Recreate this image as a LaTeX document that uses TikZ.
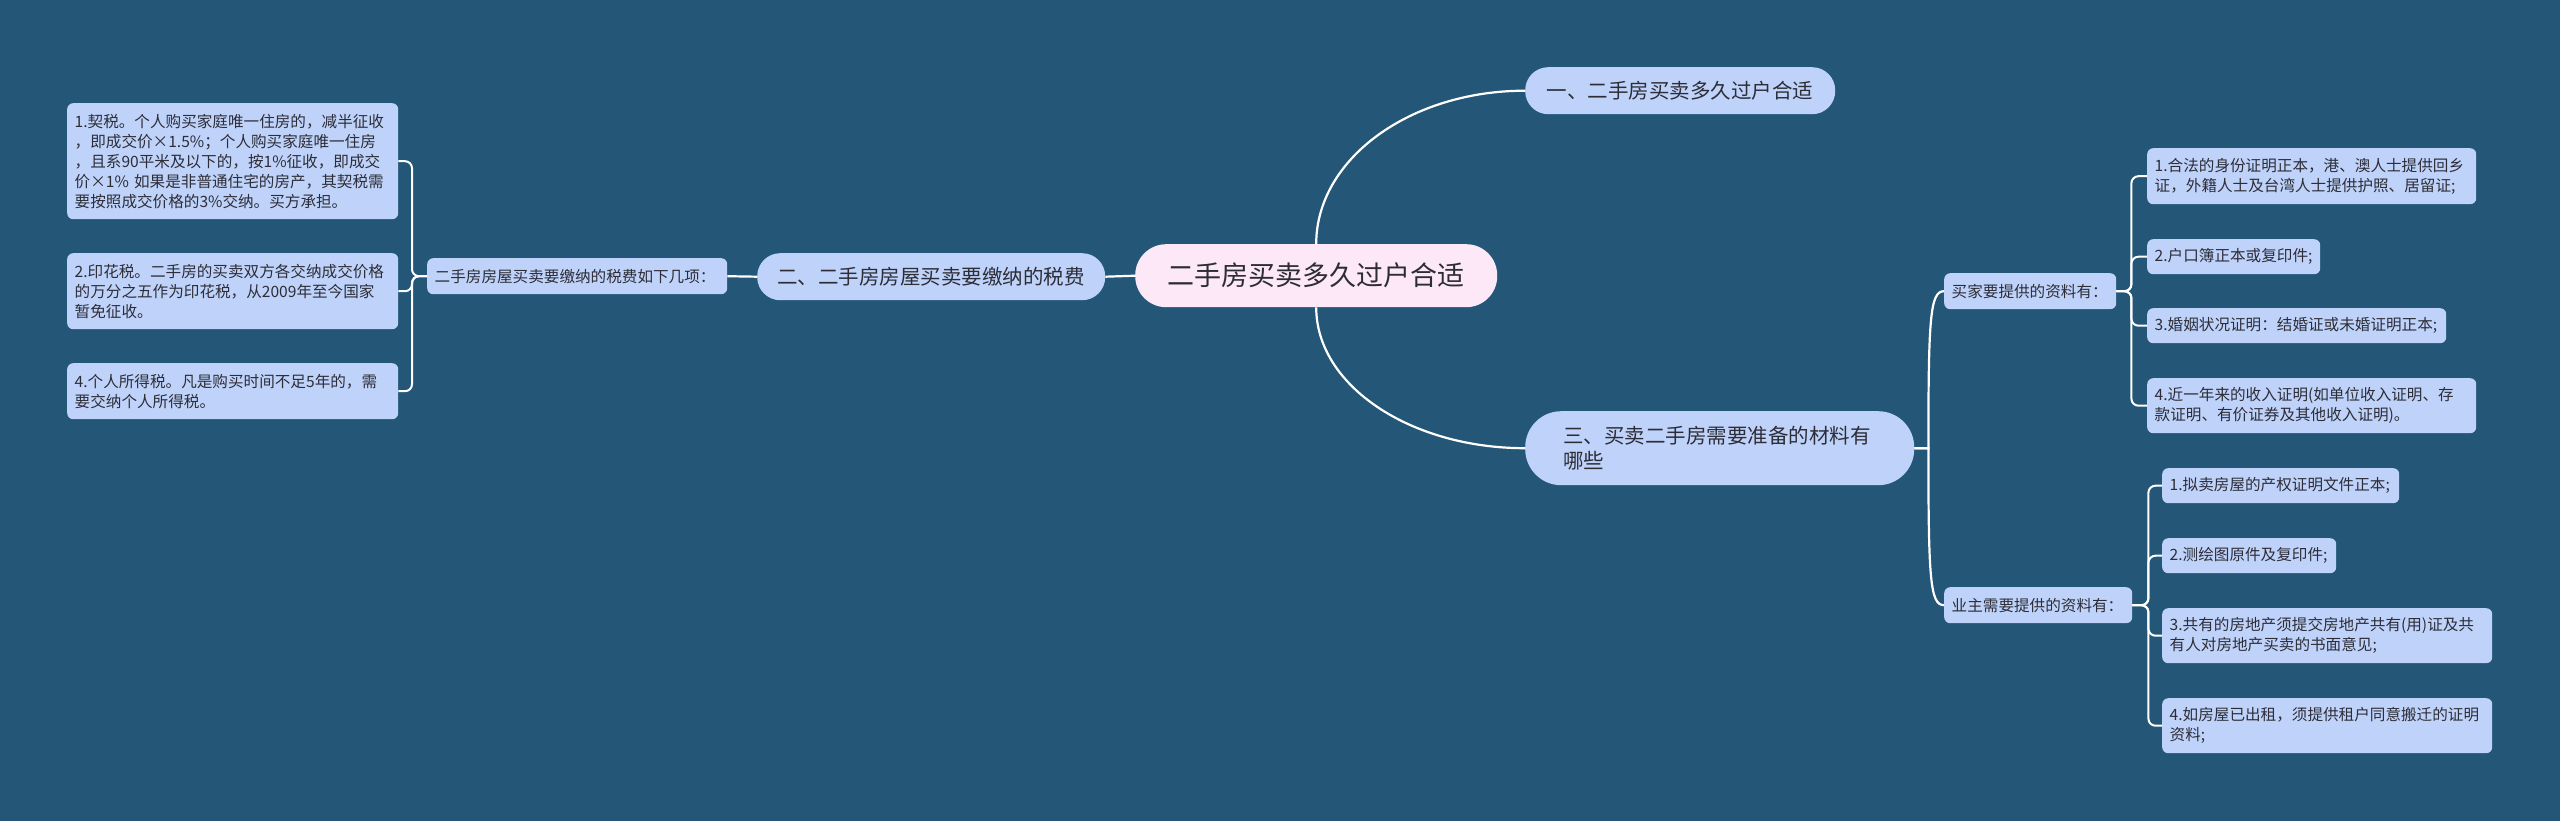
\documentclass[tikz,border=0pt]{standalone}
\usepackage{fontspec}
\setmainfont{Noto Sans CJK SC}
\usetikzlibrary{positioning}
\definecolor{bgblue}{RGB}{36,86,120}
\definecolor{nodeblue}{RGB}{191,211,250}
\definecolor{rootpink}{RGB}{253,232,247}
\definecolor{inkgray}{RGB}{45,45,55}

\begin{document}
\begin{tikzpicture}[x=1pt, y=-1pt,
    link/.style={draw=white, line width=2.2pt},
    bracket/.style={draw=white, line width=2pt, rounded corners=7pt},
    rootnode/.style={fill=rootpink, rounded corners=31pt, anchor=north west,
      text=inkgray, font=\fontsize{27}{32}\selectfont,
      minimum width=362pt, minimum height=63pt, inner sep=0pt},
    topicnode/.style={fill=nodeblue, rounded corners=23pt, anchor=north west,
      text=inkgray, font=\fontsize{20.5}{25}\selectfont,
      minimum height=47pt, inner sep=0pt},
    itemnode/.style={fill=nodeblue, rounded corners=6pt, anchor=north west,
      text=inkgray, font=\fontsize{15.6}{20}\selectfont, align=left,
      inner xsep=7.5pt, inner ysep=0pt, minimum height=35pt}]

  % background
  \fill[bgblue] (0,0) rectangle (2560,821);

  % central topic
  \node[rootnode] (root) at (1135,244) {二手房买卖多久过户合适};

  % main branches
  \node[topicnode, minimum width=310pt] (br1) at (1525,67) {一、二手房买卖多久过户合适};
  \node[topicnode, minimum width=348pt] (br2) at (757,253) {二、二手房房屋买卖要缴纳的税费};
  \node[topicnode, rounded corners=36pt, minimum height=74pt, text width=313pt,
    align=left, inner xsep=38pt] (br3) at (1525,411) {三、买卖二手房需要准备的材料有\\哪些};

  % taxes (left)
  \node[itemnode, text width=285pt, minimum height=36pt] (tax) at (427,258) {二手房房屋买卖要缴纳的税费如下几项：};
  \node[itemnode, text width=316pt, minimum height=116pt] (tax1) at (67,103) {%
    1.契税。个人购买家庭唯一住房的，减半征收\\
    ，即成交价×1.5\%；个人购买家庭唯一住房\\
    ，且系90平米及以下的，按1\%征收，即成交\\
    价×1\% 如果是非普通住宅的房产，其契税需\\
    要按照成交价格的3\%交纳。买方承担。};
  \node[itemnode, text width=316pt, minimum height=76pt] (tax2) at (67,253) {%
    2.印花税。二手房的买卖双方各交纳成交价格\\
    的万分之五作为印花税，从2009年至今国家\\
    暂免征收。};
  \node[itemnode, text width=316pt, minimum height=56pt] (tax3) at (67,363) {%
    4.个人所得税。凡是购买时间不足5年的，需\\
    要交纳个人所得税。};

  % buyer documents
  \node[itemnode, text width=157pt, minimum height=36pt] (buyer) at (1944,273) {买家要提供的资料有：};
  \node[itemnode, text width=314pt, minimum height=56pt] (buy1) at (2147,148) {%
    1.合法的身份证明正本，港、澳人士提供回乡\\
    证，外籍人士及台湾人士提供护照、居留证;};
  \node[itemnode, text width=158pt] (buy2) at (2147,239) {2.户口簿正本或复印件;};
  \node[itemnode, text width=284pt] (buy3) at (2147,308) {3.婚姻状况证明：结婚证或未婚证明正本;};
  \node[itemnode, text width=314pt, minimum height=55pt] (buy4) at (2147,378) {%
    4.近一年来的收入证明(如单位收入证明、存\\
    款证明、有价证券及其他收入证明)。};

  % owner documents
  \node[itemnode, text width=173pt, minimum height=36pt] (owner) at (1944,587) {业主需要提供的资料有：};
  \node[itemnode, text width=222pt] (own1) at (2162,468) {1.拟卖房屋的产权证明文件正本;};
  \node[itemnode, text width=159pt] (own2) at (2162,538) {2.测绘图原件及复印件;};
  \node[itemnode, text width=315pt, minimum height=55pt] (own3) at (2162,608) {%
    3.共有的房地产须提交房地产共有(用)证及共\\
    有人对房地产买卖的书面意见;};
  \node[itemnode, text width=315pt, minimum height=55pt] (own4) at (2162,698) {%
    4.如房屋已出租，须提供租户同意搬迁的证明\\
    资料;};

  % connectors
  \draw[link] (root.west) -- (br2.east);
  \draw[link] (br2.west) -- (tax.east);
  \draw[link] (root.north) .. controls +(0,-85) and +(-115,0) .. (br1.west);
  \draw[link] (root.south) .. controls +(0,78) and +(-115,0) .. (br3.west);
  \draw[link] (br3.east) -- ++(14,0) .. controls +(0,-130) and +(-14,0) .. (buyer.west);
  \draw[link] (br3.east) -- ++(14,0) .. controls +(0,130) and +(-14,0) .. (owner.west);

  \foreach \n in {tax1,tax2,tax3}
    \draw[bracket] (tax.west) -- ++(-15,0) |- (\n.east);
  \foreach \n in {buy1,buy2,buy3,buy4}
    \draw[bracket] (buyer.east) -- ++(15,0) |- (\n.west);
  \foreach \n in {own1,own2,own3,own4}
    \draw[bracket] (owner.east) -- ++(16,0) |- (\n.west);

\end{tikzpicture}
\end{document}
